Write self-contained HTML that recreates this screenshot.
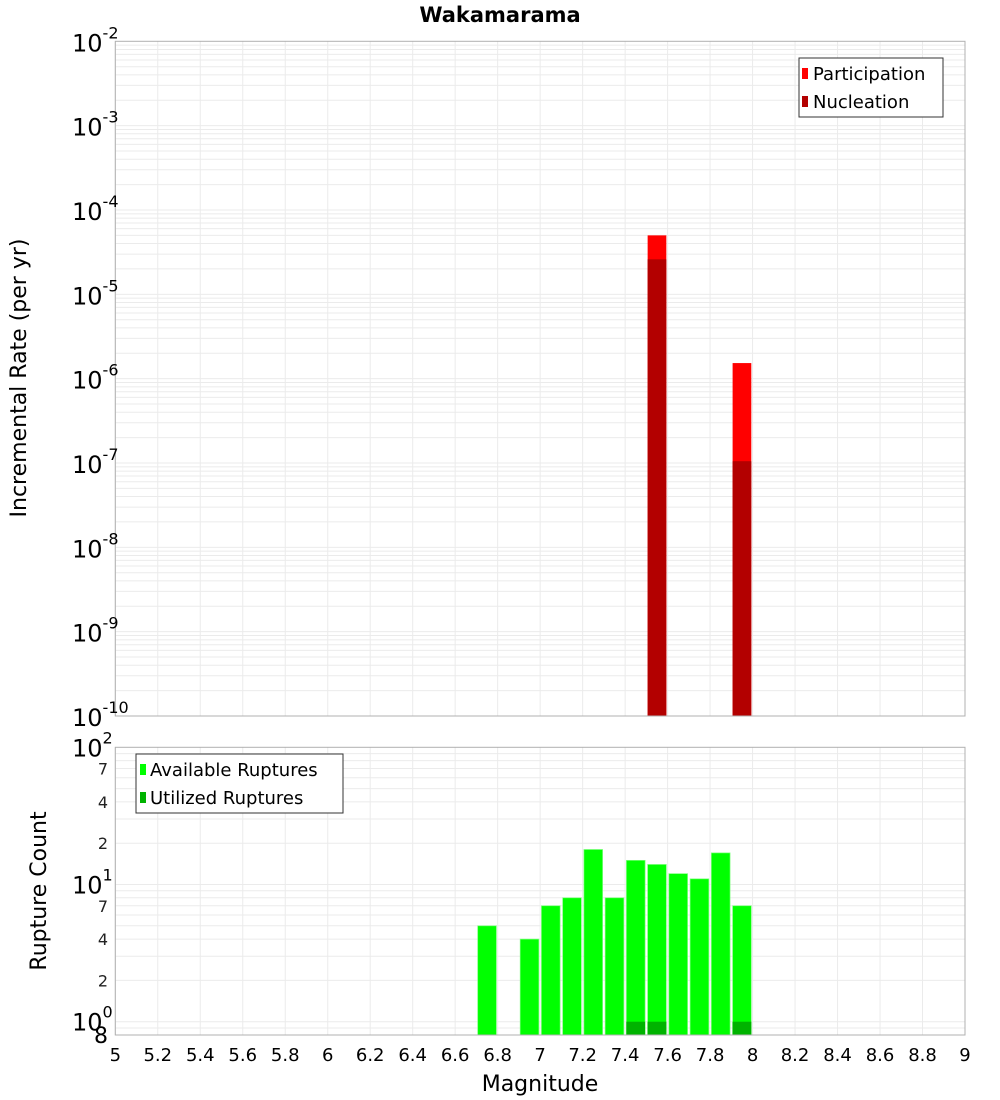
<!DOCTYPE html>
<html><head><meta charset="utf-8"><style>
html,body{margin:0;padding:0;background:#fff;}
svg{display:block;font-family:"DejaVu Sans","Liberation Sans",sans-serif;}
</style></head><body>
<svg id="chart" width="1000" height="1100" viewBox="0 0 1000 1100"></svg>
<script>
const magBins = [6.75,6.95,7.05,7.15,7.25,7.35,7.45,7.55,7.65,7.75,7.85,7.95];
const availableCounts = [5,4,7,8,18,8,15,14,12,11,17,7];
const utilizedMags = [7.45,7.55,7.95];
const utilizedCounts = [1,1,1];
const rateMags = [7.55,7.95];
const participationRates = [5.0e-5,1.53e-6];
const nucleationRates = [2.6e-5,1.05e-7];
const xTicks = [5,5.2,5.4,5.6,5.8,6,6.2,6.4,6.6,6.8,7,7.2,7.4,7.6,7.8,8,8.2,8.4,8.6,8.8,9];
const topExps = [-2,-3,-4,-5,-6,-7,-8,-9,-10];

const NS="http://www.w3.org/2000/svg";
const svg=document.getElementById('chart');
function mk(tag,attrs,parent){const e=document.createElementNS(NS,tag);for(const k in attrs)e.setAttribute(k,attrs[k]);(parent||svg).appendChild(e);return e;}
const L=115.3,R=965;
const T1=41.3,B1=716;
const T2=747.3,B2=1035;
const x=v=>L+(v-5)/4*(R-L);
const yTop=v=>T1+(-2-Math.log10(v))/8*(B1-T1);
const bMin=Math.log10(0.8),bMax=2;
const yBot=v=>B2-(Math.log10(v)-bMin)/(bMax-bMin)*(B2-T2);
const bw=(x(5.1)-x(5))*0.88;

// title
const title=mk('text',{x:500,y:22,'text-anchor':'middle','font-size':21,'font-weight':'bold'});
title.textContent='Wakamarama';



// top plot
const g1=mk('g',{});


for(let e=-10;e<-2;e++){for(let m=1;m<10;m++){const yy=yTop(m*Math.pow(10,e));mk('line',{x1:L,x2:R,y1:yy,y2:yy,stroke:'#ebebeb','stroke-width':1},g1);}}
xTicks.forEach(t=>{mk('line',{x1:x(t),x2:x(t),y1:T1,y2:B1,stroke:'#ebebeb','stroke-width':1},g1);});
rateMags.forEach((m,i)=>{
  const b=mk('rect',{x:x(m)-bw/2,y:yTop(participationRates[i]),width:bw,height:B1-yTop(participationRates[i]),fill:'#ff0000'},g1);
  
  
  const n=mk('rect',{x:x(m)-bw/2,y:yTop(nucleationRates[i]),width:bw,height:B1-yTop(nucleationRates[i]),fill:'#b30000'},g1);
  
  
});
mk('rect',{x:L,y:T1,width:R-L,height:B1-T1,fill:'none',stroke:'#b0b0b0','stroke-width':1},g1);
topExps.forEach(e=>{
  const yy=yTop(Math.pow(10,e));
  const t=mk('text',{x:72,y:yy+10,'font-size':24},g1);
  
  
  t.textContent='10';
  const s=mk('tspan',{dy:-13,'font-size':16},t);s.textContent=String(e);
});
const yt1=mk('text',{transform:'translate(26,378) rotate(-90)','text-anchor':'middle','font-size':22});
yt1.textContent='Incremental Rate (per yr)';


// legend top
const lg1=mk('g',{});


mk('rect',{x:799,y:58,width:144,height:59,fill:'#fff',stroke:'#333','stroke-width':1},lg1);
mk('rect',{x:802,y:68,width:6,height:11,fill:'#ff0000'},lg1);
mk('rect',{x:802,y:96,width:6,height:11,fill:'#b30000'},lg1);
const lp=mk('text',{x:813,y:80,'font-size':18},lg1);lp.textContent='Participation';


const ln=mk('text',{x:813,y:108,'font-size':18},lg1);ln.textContent='Nucleation';



// bottom plot
const g2=mk('g',{});


[0.8,0.9,1,2,3,4,5,6,7,8,9,10,20,30,40,50,60,70,80,90].forEach(v=>{const yy=yBot(v);mk('line',{x1:L,x2:R,y1:yy,y2:yy,stroke:'#ebebeb','stroke-width':1},g2);});
xTicks.forEach(t=>{mk('line',{x1:x(t),x2:x(t),y1:T2,y2:B2,stroke:'#ebebeb','stroke-width':1},g2);});
magBins.forEach((m,i)=>{
  const b=mk('rect',{x:x(m)-bw/2,y:yBot(availableCounts[i]),width:bw,height:B2-yBot(availableCounts[i]),fill:'#00ff00',stroke:'#7fff7f','stroke-width':0.7},g2);
  
  
});
utilizedMags.forEach((m,i)=>{
  const b=mk('rect',{x:x(m)-bw/2,y:yBot(utilizedCounts[i]),width:bw,height:B2-yBot(utilizedCounts[i]),fill:'#00b300'},g2);
  
  
});
mk('rect',{x:L,y:T2,width:R-L,height:B2-T2,fill:'none',stroke:'#b0b0b0','stroke-width':1},g2);
[[100,'2'],[10,'1'],[1,'0']].forEach(([v,e])=>{
  const yy=yBot(v);
  const t=mk('text',{x:72,y:yy+9,'font-size':24},g2);
  
  
  t.textContent='10';
  const s=mk('tspan',{dy:-13,'font-size':16},t);s.textContent=e;
});
[[70,'7'],[40,'4'],[20,'2'],[7,'7'],[4,'4'],[2,'2']].forEach(([v,l])=>{
  const t=mk('text',{x:103,y:yBot(v)+6,'font-size':16,'text-anchor':'middle',fill:'#222'},g2);
  
  
  t.textContent=l;
});
const t8=mk('text',{x:101,y:yBot(0.8)+8,'font-size':22,'text-anchor':'middle'},g2);
t8.textContent='8';


const yt2=mk('text',{transform:'translate(46,891) rotate(-90)','text-anchor':'middle','font-size':22});
yt2.textContent='Rupture Count';


xTicks.forEach(t=>{
  const tx=mk('text',{x:x(t),y:1061,'font-size':18,'text-anchor':'middle'});
  tx.textContent=String(t);
  
  
});
const xt=mk('text',{x:540,y:1091,'font-size':22,'text-anchor':'middle'});
xt.textContent='Magnitude';


// legend bottom
const lg2=mk('g',{});


mk('rect',{x:136,y:754,width:207,height:59,fill:'#fff',stroke:'#333','stroke-width':1},lg2);
mk('rect',{x:140,y:764,width:6,height:11,fill:'#00ff00'},lg2);
mk('rect',{x:140,y:792,width:6,height:11,fill:'#00b300'},lg2);
const la=mk('text',{x:150,y:776,'font-size':18},lg2);la.textContent='Available Ruptures';


const lu=mk('text',{x:150,y:804,'font-size':18},lg2);lu.textContent='Utilized Ruptures';


</script>
</body></html>
